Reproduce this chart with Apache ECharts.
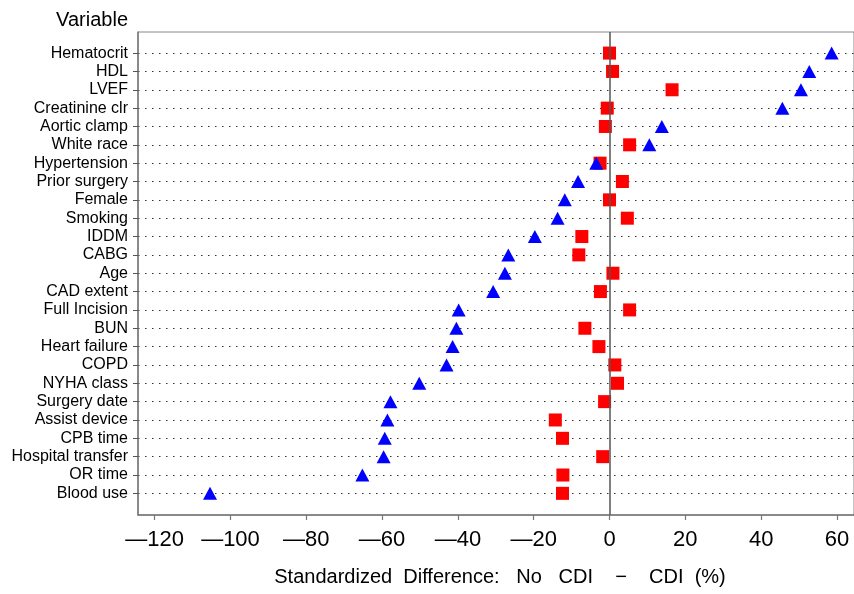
<!DOCTYPE html>
<html><head><meta charset="utf-8">
<script src="https://cdn.jsdelivr.net/npm/echarts@6/dist/echarts.min.js"></script>
<style>html,body{margin:0;padding:0;background:#fff}#c{width:854px;height:594px}</style>
</head><body><div id="c"></div>
<script>
const categories = ['Hematocrit','HDL','LVEF','Creatinine clr','Aortic clamp','White race','Hypertension','Prior surgery','Female','Smoking','IDDM','CABG','Age','CAD extent','Full Incision','BUN','Heart failure','COPD','NYHA class','Surgery date','Assist device','CPB time','Hospital transfer','OR time','Blood use'];
const triangleValues = [58.6,52.7,50.5,45.6,13.8,10.5,-3.5,-8.3,-11.8,-13.7,-19.7,-26.7,-27.6,-30.7,-39.8,-40.4,-41.4,-43.0,-50.2,-57.8,-58.6,-59.3,-59.6,-65.2,-105.4];
const squareValues = [0.0,0.8,16.5,-0.6,-1.1,5.3,-2.5,3.4,0.0,4.7,-7.3,-8.1,0.9,-2.4,5.3,-6.5,-2.8,1.4,2.1,-1.3,-14.3,-12.4,-1.8,-12.3,-12.4];
const xTicks = [-120,-100,-80,-60,-40,-20,0,20,40,60];
const referenceLine = 0;

const rowIdx = categories.map((c, i) => i);
const font = "'Liberation Sans', Arial, sans-serif";

const chart = echarts.init(document.getElementById('c'), null, {renderer: 'canvas'});
chart.setOption({
  animation: false,
  backgroundColor: '#fff',
  title: {
    text: 'Variable', right: 726, top: 10, padding: 0,
    textStyle: {fontSize: 20, fontWeight: 'normal', color: '#000', fontFamily: font}
  },
  grid: {left: 138, right: -1, top: 32, bottom: 79, show: true, borderColor: '#888', borderWidth: 1, containLabel: false},
  xAxis: {
    type: 'value', min: -124.4, max: 64.5,
    name: 'Standardized  Difference:   No   CDI    \u2212    CDI  (%)',
    nameLocation: 'middle', nameGap: 52,
    nameTextStyle: {fontSize: 20, color: '#000', fontFamily: font, padding: [0, 0, 0, 8]},
    axisLine: {show: true, onZero: false, lineStyle: {color: '#777', width: 1.5}},
    axisTick: {show: true, customValues: xTicks, length: 5, lineStyle: {color: '#777', width: 1.2}},
    axisLabel: {
      customValues: xTicks, margin: 14, fontSize: 22, color: '#000', fontFamily: font,
      formatter: v => v < 0 ? '\u2014' + Math.abs(v) : String(v)
    },
    splitLine: {show: false}
  },
  yAxis: {
    type: 'value', inverse: true, min: -1.15, max: 25.18,
    axisLine: {show: true, onZero: false, lineStyle: {color: '#777', width: 1.5}},
    axisTick: {show: true, customValues: rowIdx, length: 5, lineStyle: {color: '#555', width: 1}},
    axisLabel: {
      customValues: rowIdx, margin: 10, fontSize: 16, color: '#000', fontFamily: font,
      formatter: v => categories[Math.round(v)]
    },
    splitLine: {show: true, lineStyle: {color: '#333', width: 1, type: [1.5, 5.5]}}
  },
  series: [
    {
      type: 'scatter', data: [], z: 1, silent: true,
      markLine: {
        silent: true, symbol: ['none', 'none'], label: {show: false},
        lineStyle: {color: '#555', type: 'solid', width: 1.5},
        emphasis: {disabled: true},
        data: [{xAxis: referenceLine}]
      }
    },
    {
      type: 'scatter', name: 'CDI', symbol: 'rect', symbolSize: 13, z: 3,
      itemStyle: {color: '#ff0000', opacity: 1}, emphasis: {disabled: true},
      data: squareValues.map((v, i) => [v, i])
    },
    {
      type: 'scatter', name: 'No CDI', symbol: 'triangle', symbolSize: [14, 13], z: 4,
      itemStyle: {color: '#0000ff', opacity: 1}, emphasis: {disabled: true},
      data: triangleValues.map((v, i) => [v, i])
    }
  ]
});
</script></body></html>
